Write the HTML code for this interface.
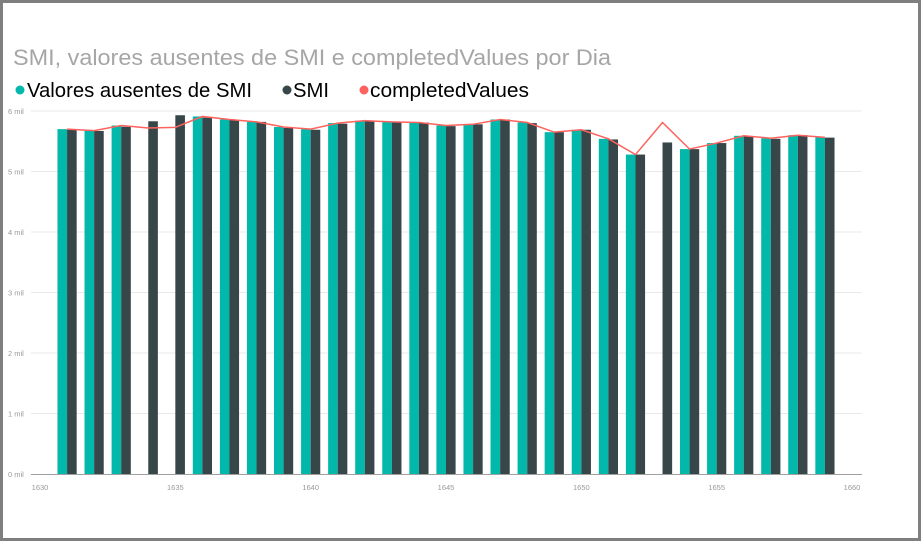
<!DOCTYPE html>
<html><head><meta charset="utf-8"><style>
html,body{margin:0;padding:0;background:#fff}
svg{display:block}
text{font-family:"Liberation Sans",sans-serif}
</style></head><body>
<svg id="chart" width="922" height="542" viewBox="0 0 922 542">
<rect x="1.5" y="1.5" width="918" height="538" fill="#fff" stroke="#7f7f7f" stroke-width="3"/>
<text x="13" y="65" font-size="22" fill="#a6a6a6" textLength="598" lengthAdjust="spacingAndGlyphs">SMI, valores ausentes de SMI e completedValues por Dia</text>
<g>
<g><circle cx="20" cy="90" r="4.5" fill="#01B8AA"/><text x="27" y="97" font-size="20" fill="#000" textLength="225" lengthAdjust="spacingAndGlyphs">Valores ausentes de SMI</text></g>
<g><circle cx="287" cy="90" r="4.5" fill="#374649"/><text x="293" y="97" font-size="20" fill="#000" textLength="36" lengthAdjust="spacingAndGlyphs">SMI</text></g>
<g><circle cx="364" cy="90" r="4.5" fill="#FD625E"/><text x="370" y="97" font-size="20" fill="#000" textLength="159" lengthAdjust="spacingAndGlyphs">completedValues</text></g>
</g>
<g id="grid"></g><g id="bars"></g><g id="line"></g><g id="axes"></g>
</svg>
<script>
const days = [1631,1632,1633,1634,1635,1636,1637,1638,1639,1640,1641,1642,1643,1644,1645,1646,1647,1648,1649,1650,1651,1652,1653,1654,1655,1656,1657,1658,1659];
const missingValues = [5.70,5.675,5.76,null,null,5.91,5.86,5.82,5.735,5.70,5.80,5.84,5.82,5.81,5.76,5.78,5.86,5.81,5.65,5.69,5.54,5.28,null,5.37,5.47,5.59,5.55,5.60,5.565];
const smiValues = [5.69,5.67,5.74,5.83,5.93,5.89,5.85,5.82,5.72,5.69,5.79,5.83,5.82,5.81,5.75,5.78,5.86,5.80,5.65,5.69,5.53,5.28,5.48,5.37,5.47,5.58,5.54,5.60,5.56];
const completedValues = [5.70,5.675,5.76,5.72,5.73,5.91,5.86,5.82,5.735,5.70,5.80,5.84,5.82,5.81,5.76,5.78,5.86,5.81,5.65,5.69,5.54,5.28,5.81,5.37,5.47,5.59,5.55,5.60,5.565];
const yTicks = [0,1,2,3,4,5,6];
const yTickLabels = ["0 mil","1 mil","2 mil","3 mil","4 mil","5 mil","6 mil"];
const xTicks = [1630,1635,1640,1645,1650,1655,1660];

const NS="http://www.w3.org/2000/svg";
const X=d=>40+(d-1630)*(812/30);
const Y=v=>474-v*60.5;
function mk(tag,attrs,parent){const e=document.createElementNS(NS,tag);for(const k in attrs)e.setAttribute(k,attrs[k]);parent.appendChild(e);return e;}
const grid=document.getElementById('grid'),bars=document.getElementById('bars'),line=document.getElementById('line'),axes=document.getElementById('axes');
yTicks.forEach((t,i)=>{
  if(t>0){const g=mk('line',{x1:31,x2:862,y1:Y(t),y2:Y(t),stroke:'#e9e9e9','stroke-width':1},grid);
  
  }
  const l=mk('text',{x:8,y:Y(t)+3,'font-size':7.5,fill:'#999'},axes);l.textContent=yTickLabels[i];
  
  
});
const ax=mk('line',{x1:31,x2:862,y1:474.5,y2:474.5,stroke:'#a0a0a0','stroke-width':1},axes);


xTicks.forEach(t=>{
  const l=mk('text',{x:X(t),y:490,'font-size':7.5,fill:'#999','text-anchor':'middle'},axes);l.textContent=t;
  
  
});
const bw=9.6;
days.forEach((d,i)=>{
  const cx=X(d);
  if(missingValues[i]!=null){
    const r=mk('rect',{x:cx-bw,y:Y(missingValues[i]),width:bw,height:474-Y(missingValues[i]),fill:'#01B8AA'},bars);
    
    
  }
  if(smiValues[i]!=null){
    const r=mk('rect',{x:cx,y:Y(smiValues[i]),width:bw,height:474-Y(smiValues[i]),fill:'#374649'},bars);
    
    
  }
});
const pts=days.map((d,i)=>X(d)+','+Y(completedValues[i])).join(' ');
const pl=mk('polyline',{points:pts,fill:'none',stroke:'#FD625E','stroke-width':1.5},line);


</script>
</body></html>
